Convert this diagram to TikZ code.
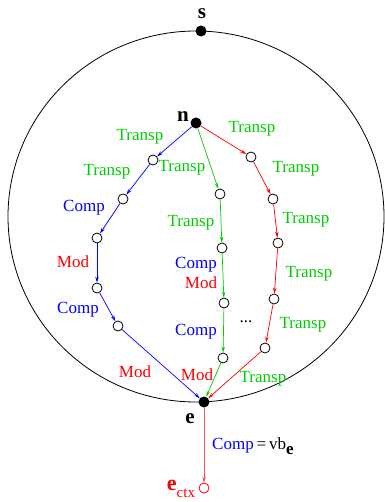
\documentclass[tikz,border=0pt]{standalone}
\usepackage{fontspec}
\setmainfont{Liberation Serif}
\usetikzlibrary{arrows.meta}
\definecolor{stepblue}{RGB}{0,0,255}
\definecolor{stepgreen}{RGB}{0,205,0}
\definecolor{stepred}{RGB}{255,0,0}
\definecolor{ctxred}{RGB}{255,80,80}

\begin{document}
\begin{tikzpicture}[x=1pt,y=-1pt,>={Stealth[length=6pt,width=3.5pt]},
 state/.style={circle,draw=black,fill=white,line width=0.8pt,inner sep=0pt,minimum size=10pt},
 point/.style={circle,fill=black,inner sep=0pt,minimum size=11pt},
 lbl/.style={inner sep=0pt,font=\fontsize{17}{20}\selectfont},
 transp/.style={lbl,text=stepgreen},
 comp/.style={lbl,text=stepblue},
 modif/.style={lbl,text=stepred},
 vname/.style={inner sep=0pt,font=\fontsize{21}{24}\selectfont\bfseries},
 edge/.style={->,line width=0.7pt}]
\useasboundingbox (0,0) rectangle (384,502);
\draw[line width=0.8pt] (196,216.5) ellipse [x radius=188pt,y radius=185.5pt];
% end points
\node[point] (s) at (201,31) {};
\node[point] (n) at (196,123) {};
\node[point] (e) at (204,402) {};
\node[state,draw=stepred] (ctx) at (204,488) {};
\node[vname] (slbl) at (202,14) {s};
\node[vname] (nlbl) at (183,117) {n};
\node[vname] (elbl) at (190,419) {e};
\node[inner sep=0pt,text=stepred] (ctxlbl) at (181,489) {\fontsize{22}{24}\selectfont\bfseries e\raisebox{-7pt}{\fontsize{15}{16}\mdseries ctx}};
% blue path
\node[state] (b1) at (153,160) {};
\node[state] (b2) at (123,199) {};
\node[state] (b3) at (97,238) {};
\node[state] (b4) at (97,288) {};
\node[state] (b5) at (118,326) {};
\draw[edge,stepblue] (n) -- (b1);
\draw[edge,stepblue] (b1) -- (b2);
\draw[edge,stepblue] (b2) -- (b3);
\draw[edge,stepblue] (b3) -- (b4);
\draw[edge,stepblue] (b4) -- (b5);
\draw[edge,stepblue] (b5) -- (e);
\node[transp] (bt1) at (140,137) {Transp};
\node[transp] (bt2) at (107,172) {Transp};
\node[comp] (bc1) at (84,208) {Comp};
\node[modif] (bm1) at (73,262) {Mod};
\node[comp] (bc2) at (78,310) {Comp};
\node[modif] (bm2) at (135,372) {Mod};
% green path
\node[state] (g1) at (220,194) {};
\node[state] (g2) at (222,248) {};
\node[state] (g3) at (224,303) {};
\node[state] (g4) at (223,358) {};
\draw[edge,stepgreen] (n) -- (g1);
\draw[edge,stepgreen] (g1) -- (g2);
\draw[edge,stepgreen] (g2) -- (g3);
\draw[edge,stepgreen] (g3) -- (g4);
\draw[edge,stepgreen] (g4) -- (e);
\node[transp] (gt1) at (182,168) {Transp};
\node[transp] (gt2) at (191,223) {Transp};
\node[comp] (gc1) at (196,265) {Comp};
\node[modif] (gm1) at (201,283) {Mod};
\node[comp] (gc2) at (196,332) {Comp};
\node[modif] (gm2) at (197,375) {Mod};
% red path
\node[state] (r1) at (251,157) {};
\node[state] (r2) at (273,199) {};
\node[state] (r3) at (278,243) {};
\node[state] (r4) at (274,299) {};
\node[state] (r5) at (265,348) {};
\draw[edge,stepred] (n) -- (r1);
\draw[edge,stepred] (r1) -- (r2);
\draw[edge,stepred] (r2) -- (r3);
\draw[edge,stepred] (r3) -- (r4);
\draw[edge,stepred] (r4) -- (r5);
\draw[edge,stepred] (r5) -- (e);
\node[transp] (rt1) at (252,129) {Transp};
\node[transp] (rt2) at (296,169) {Transp};
\node[transp] (rt3) at (306,220) {Transp};
\node[transp] (rt4) at (309,274) {Transp};
\node[transp] (rt5) at (303,325) {Transp};
\node[transp] (rt6) at (263,379) {Transp};
\node[lbl] (dots) at (246,322) {...};
% context step
\draw[edge,ctxred] (e) -- (ctx);
\node[inner sep=0pt,anchor=west,font=\fontsize{17}{20}\selectfont] (vblbl) at (212,446) {\textcolor{stepblue}{Comp}\,=\,vb\raisebox{-5pt}{\bfseries e}};
\end{tikzpicture}
\end{document}
